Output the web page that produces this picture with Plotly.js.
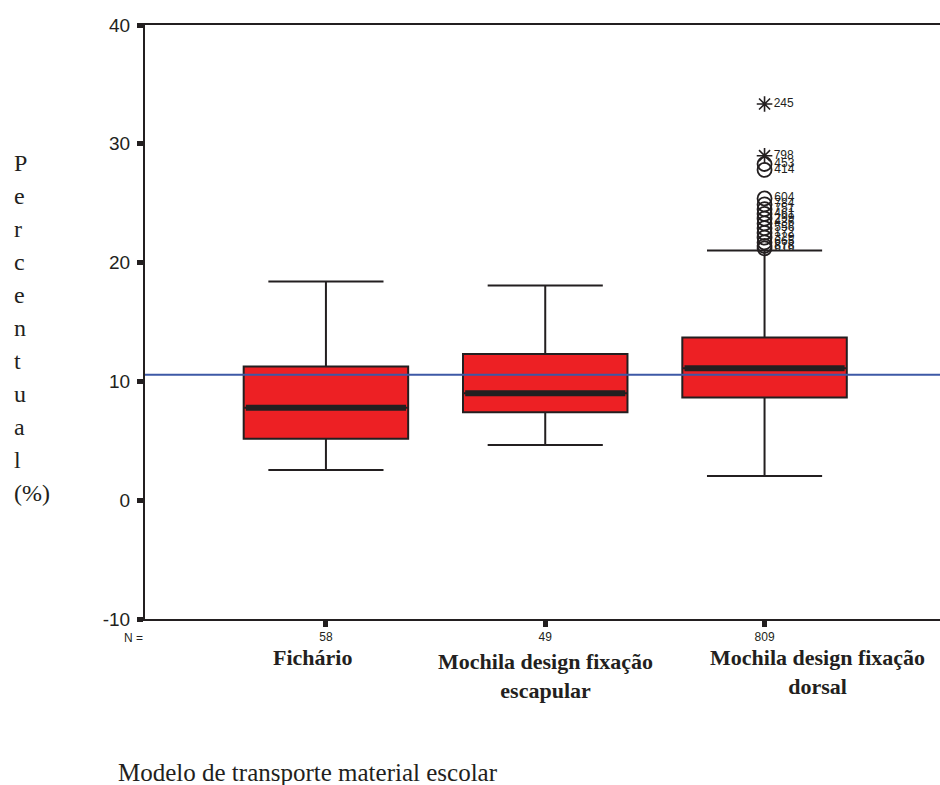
<!DOCTYPE html>
<html>
<head>
<meta charset="utf-8">
<script src="https://cdn.plot.ly/plotly-3.0.1.min.js"></script>
<style>html,body{margin:0;padding:0;background:#fff;}#chart{width:940px;height:785px;}</style>
</head>
<body>
<div id="chart"></div>
<script>
// ---- data ----
const categories = ["Fichário", "Mochila design fixação<br>escapular", "Mochila design fixação<br>dorsal"];
const nCounts = ["58", "49", "809"];
const lowerWhisker = [2.54, 4.64, 2.03];
const q1Values = [5.18, 7.40, 8.64];
const medianValues = [7.79, 9.00, 11.10];
const q3Values = [11.25, 12.31, 13.69];
const upperWhisker = [18.41, 18.07, 21.02];
const referenceLine = 10.57;
// outliers of group 3 (dorsal)
const outlierValues = [28.3, 27.8, 25.4, 24.9, 24.5, 24.1, 23.7, 23.3, 22.9, 22.5, 22.1, 21.7, 21.4, 21.2];
const outlierLabels = ["453", "414", "604", "784", "751", "461", "299", "436", "556", "172", "329", "665", "878", "616"];
const extremeValues = [33.35, 29.0];
const extremeLabels = ["245", "798"];
const yTickValues = [-10, 0, 10, 20, 30, 40];
const yTickLabels = ["-10", "0", "10", "20", "30", "40"];
const yTitleChars = ["P","e","r","c","e","n","t","u","a","l","(%)"];
const xTitle = "Modelo de transporte material escolar";

// ---- styles ----
const ink = "#231f20";
const boxWidth = 0.75;
const idx = categories.map((_, i) => i);

const traces = [
  {
    type: "box",
    x: idx,
    q1: q1Values, median: medianValues, q3: q3Values,
    lowerfence: lowerWhisker, upperfence: upperWhisker,
    width: boxWidth,
    whiskerwidth: 0.7,
    fillcolor: "#ed2024",
    line: {color: ink, width: 2},
    hoverinfo: "skip",
    showlegend: false
  },
  {
    type: "scatter",
    mode: "markers+text",
    x: outlierValues.map(() => 2),
    y: outlierValues,
    text: outlierLabels,
    textposition: "middle right",
    textfont: {family: "Liberation Sans, Arial", size: 12, color: ink},
    marker: {symbol: "circle-open", size: 14, color: ink, line: {width: 1.8, color: ink}},
    cliponaxis: false,
    showlegend: false
  },
  {
    type: "scatter",
    mode: "markers+text",
    x: extremeValues.map(() => 2),
    y: extremeValues,
    text: extremeLabels,
    textposition: "middle right",
    textfont: {family: "Liberation Sans, Arial", size: 12, color: ink},
    marker: {symbol: "asterisk-open", size: 13, color: ink, line: {width: 1.6, color: ink}},
    cliponaxis: false,
    showlegend: false
  }
];

const shapes = [];
// thick median bars derived from data
medianValues.forEach((m, i) => {
  shapes.push({type: "line", xref: "x", yref: "y", x0: i - boxWidth / 2 + 0.01, x1: i + boxWidth / 2 - 0.01, y0: m, y1: m,
    line: {color: ink, width: 6}});
});
// reference line
shapes.push({type: "line", xref: "paper", yref: "y", x0: 0, x1: 1, y0: referenceLine, y1: referenceLine,
  line: {color: "#3d59a6", width: 2}});

// helpers for pixel -> paper conversion of text positions
const L = 145, T = 25, W = 795, H = 594;
const px = v => (v - L) / W;
const py = v => (T + H - v) / H;

const annotations = [];
yTitleChars.forEach((c, i) => {
  annotations.push({text: c, xref: "paper", yref: "paper", x: px(12), y: py(163 + 33 * i),
    xanchor: "left", yanchor: "middle", showarrow: false,
    font: {family: "Liberation Serif, Times New Roman", size: 24, color: ink}});
});
annotations.push({text: "N =", xref: "paper", yref: "paper", x: px(133), y: py(638),
  xanchor: "center", yanchor: "middle", showarrow: false,
  font: {family: "Liberation Sans, Arial", size: 12, color: ink}});
const catPos = [[312, 657], [545, 676], [817, 672]];
categories.forEach((c, i) => {
  annotations.push({text: "<b>" + c + "</b>", xref: "paper", yref: "paper", x: px(catPos[i][0]), y: py(catPos[i][1]),
    xanchor: "center", yanchor: "middle", showarrow: false,
    font: {family: "Liberation Serif, Times New Roman", size: 22, color: ink}});
});
annotations.push({text: xTitle, xref: "paper", yref: "paper", x: px(116), y: py(772),
  xanchor: "left", yanchor: "middle", showarrow: false,
  font: {family: "Liberation Serif, Times New Roman", size: 25, color: ink}});

const layout = {
  width: 940, height: 785,
  margin: {l: L, r: 0, t: T, b: 785 - T - H, pad: 0},
  paper_bgcolor: "#fff", plot_bgcolor: "#fff",
  showlegend: false,
  xaxis: {
    range: [-0.825, 2.80],
    tickmode: "array", tickvals: idx, ticktext: nCounts,
    ticks: "outside", ticklen: 6, tickwidth: 5, tickcolor: ink,
    tickfont: {family: "Liberation Sans, Arial", size: 12, color: ink},
    showline: true, linecolor: ink, linewidth: 2, mirror: true,
    showgrid: false, zeroline: false, fixedrange: true
  },
  yaxis: {
    range: [-10, 40],
    tickmode: "array", tickvals: yTickValues, ticktext: yTickLabels,
    ticks: "outside", ticklen: 6, tickwidth: 5, tickcolor: ink,
    ticklabelstandoff: 3,
    tickfont: {family: "Liberation Sans, Arial", size: 19, color: ink},
    showline: true, linecolor: ink, linewidth: 2,
    showgrid: false, zeroline: false, fixedrange: true
  },
  shapes: shapes,
  annotations: annotations
};

Plotly.newPlot("chart", traces, layout, {staticPlot: true});
</script>
</body>
</html>
